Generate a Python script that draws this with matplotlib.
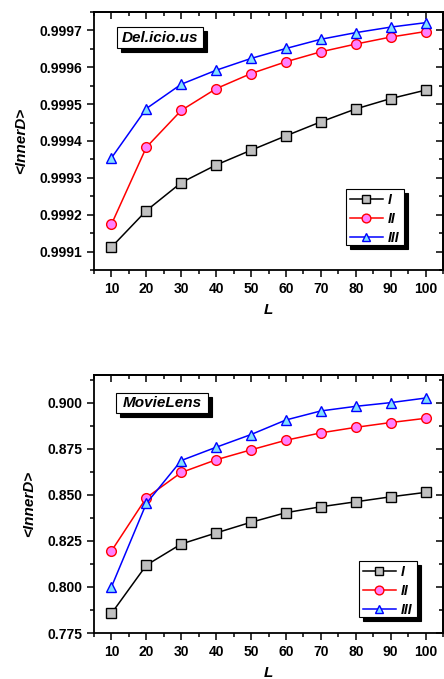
import matplotlib
matplotlib.use('Agg')
import matplotlib.pyplot as plt
from matplotlib.ticker import MultipleLocator, FormatStrFormatter

plt.rcParams['font.family'] = ['Liberation Sans', 'DejaVu Sans']
plt.rcParams['font.weight'] = 'bold'

L = [10, 20, 30, 40, 50, 60, 70, 80, 90, 100]
series_names = ['I', 'II', 'III']

# Del.icio.us
deli_I = [0.999112, 0.999211, 0.999287, 0.999335, 0.999375,
          0.999414, 0.999452, 0.999487, 0.999515, 0.999538]
deli_II = [0.999174, 0.999383, 0.999483, 0.999542, 0.999583,
           0.999615, 0.999642, 0.999663, 0.999682, 0.999697]
deli_III = [0.999354, 0.999488, 0.999554, 0.999592, 0.999624,
            0.999651, 0.999676, 0.999694, 0.999709, 0.999721]

# MovieLens
movie_I = [0.7856, 0.8118, 0.8233, 0.8293, 0.8351,
           0.8403, 0.8435, 0.8462, 0.8489, 0.8513]
movie_II = [0.8195, 0.8484, 0.8621, 0.8690, 0.8744,
            0.8796, 0.8836, 0.8866, 0.8892, 0.8915]
movie_III = [0.8000, 0.8453, 0.8686, 0.8758, 0.8827,
             0.8906, 0.8955, 0.8980, 0.9000, 0.9025]

styles = [
    dict(color='black', marker='s', mfc='#c0c0c0', mec='black'),
    dict(color='red', marker='o', mfc='#ff80ff', mec='red'),
    dict(color='blue', marker='^', mfc='#80e0ff', mec='blue'),
]

W, H = 444, 679
fig = plt.figure(figsize=(W/100, H/100), dpi=100)
ax1 = fig.add_axes([94/W, 1 - 270/H, 349/W, 258/H])
ax2 = fig.add_axes([94/W, 1 - 633/H, 349/W, 258/H])


def shadow_box(ax, x0, y0, x1, y1):
    # black shadow + white box, pixel coords from top-left of figure
    for dx, color in [(4, 'black'), (0, 'white')]:
        rect = plt.Rectangle(((x0 + dx)/W, 1 - (y1 + dx)/H), (x1 - x0)/W, (y1 - y0)/H,
                             transform=fig.transFigure, facecolor=color,
                             edgecolor='black', lw=0.8, zorder=5, clip_on=False)
        ax.add_artist(rect)


def style_axes(ax, ylim, ymajor, fmt):
    ax.set_xlim(5, 105)
    ax.set_ylim(*ylim)
    ax.xaxis.set_major_locator(MultipleLocator(10))
    ax.xaxis.set_minor_locator(MultipleLocator(5))
    ax.yaxis.set_major_locator(MultipleLocator(ymajor))
    ax.yaxis.set_minor_locator(MultipleLocator(ymajor/2))
    ax.yaxis.set_major_formatter(FormatStrFormatter(fmt))
    for s in ax.spines.values():
        s.set_linewidth(1.3)
    ax.tick_params(which='both', direction='out', top=False, right=False, labelsize=10, width=1.1)
    ax.tick_params(which='major', length=5)
    ax.tick_params(which='minor', length=3)
    sec_x = ax.secondary_xaxis('top')
    sec_x.xaxis.set_major_locator(MultipleLocator(10))
    sec_x.xaxis.set_minor_locator(MultipleLocator(5))
    sec_x.tick_params(which='both', direction='in', labeltop=False, width=1.1)
    sec_x.tick_params(which='major', length=5)
    sec_x.tick_params(which='minor', length=3)
    sec_x.spines['top'].set_linewidth(1.3)
    sec_y = ax.secondary_yaxis('right')
    sec_y.yaxis.set_major_locator(MultipleLocator(ymajor))
    sec_y.yaxis.set_minor_locator(MultipleLocator(ymajor/2))
    sec_y.tick_params(which='both', direction='in', labelright=False, width=1.1)
    sec_y.tick_params(which='major', length=5)
    sec_y.tick_params(which='minor', length=3)
    sec_y.spines['right'].set_linewidth(1.3)
    for lab in ax.get_xticklabels() + ax.get_yticklabels():
        lab.set_fontweight('bold')
    ax.set_xlabel('L', fontsize=11, fontweight='bold', style='italic', labelpad=5)
    ax.set_ylabel('<InnerD>', fontsize=11, fontweight='bold', style='italic', labelpad=8)


panels = [
    (ax1, [deli_I, deli_II, deli_III], (0.99905, 0.99975), 0.0001, '%.4f', 'Del.icio.us',
     (117, 27, 203, 48), (346, 189, 404, 245)),
    (ax2, [movie_I, movie_II, movie_III], (0.775, 0.915), 0.025, '%.3f', 'MovieLens',
     (116, 393, 208, 413), (359, 561, 417, 617)),
]

for ax, data, ylim, ymajor, fmt, title, tbox, lbox in panels:
    handles = []
    for vals, st in zip(data, styles):
        h, = ax.plot(L, vals, lw=1.1, ms=7, mew=1.0, clip_on=False, **st)
        handles.append(h)
    style_axes(ax, ylim, ymajor, fmt)

    shadow_box(ax, *tbox)
    ax.text((tbox[0] + tbox[2]) / 2 / W, 1 - (tbox[1] + tbox[3]) / 2 / H, title,
            transform=fig.transFigure, ha='center', va='center', fontsize=11,
            fontweight='bold', style='italic', zorder=6)

    shadow_box(ax, *lbox)
    leg = ax.legend(handles, series_names, loc='upper left',
                    bbox_to_anchor=((lbox[0] + 1) / W, 1 - (lbox[1] + 1) / H),
                    bbox_transform=fig.transFigure, frameon=False,
                    handlelength=2.4, handletextpad=0.3, labelspacing=0.37,
                    borderpad=0.2, borderaxespad=0, markerscale=0.9,
                    prop=dict(size=10, weight='bold', style='italic'))
    leg.set_zorder(7)

fig.savefig('out.png', dpi=100)
